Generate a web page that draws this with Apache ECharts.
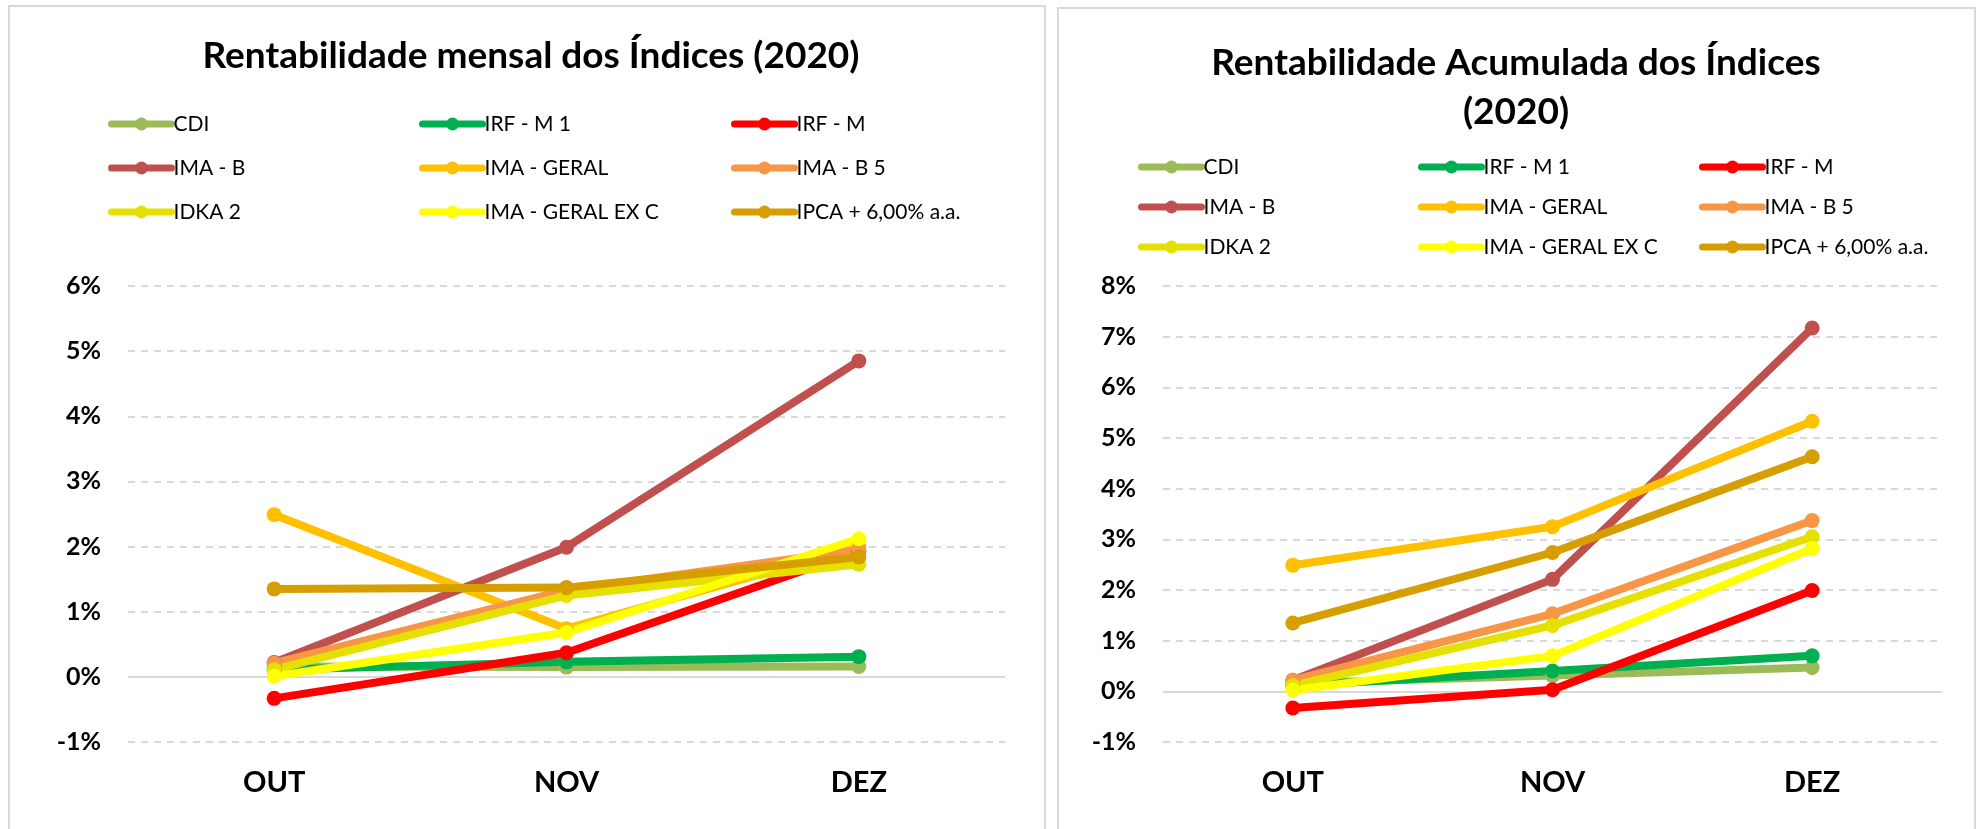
<!DOCTYPE html>
<html>
<head>
<meta charset="utf-8">
<script src="https://cdn.jsdelivr.net/npm/echarts@6/dist/echarts.min.js"></script>
<style>
  html, body { margin: 0; padding: 0; background: #fff; }
  #chart { width: 1981px; height: 829px; }
</style>
</head>
<body>
<div id="chart"></div>
<script>
const categories = ['OUT', 'NOV', 'DEZ']
const names = ['CDI', 'IRF - M 1', 'IRF - M', 'IMA - B', 'IMA - GERAL', 'IMA - B 5', 'IDKA 2', 'IMA - GERAL EX C', 'IPCA + 6,00% a.a.']
const colors = ['#9BBB59', '#00B050', '#FF0000', '#C0504D', '#FFC000', '#F79646', '#E6E000', '#FFFF00', '#D69E00']

// rentabilidade mensal (%)
const mCdi = [0.16, 0.15, 0.16]
const mIrfm1 = [0.11, 0.23, 0.31]
const mIrfm = [-0.33, 0.37, 1.93]
const mImab = [0.22, 1.99, 4.85]
const mImaGeral = [2.49, 0.74, 2.00]
const mImab5 = [0.21, 1.33, 1.95]
const mIdka2 = [0.11, 1.25, 1.73]
const mImaGeralExC = [0.01, 0.68, 2.12]
const mIpca = [1.35, 1.37, 1.84]

// rentabilidade acumulada (%)
const aCdi = [0.16, 0.31, 0.47]
const aIrfm1 = [0.11, 0.40, 0.70]
const aIrfm = [-0.33, 0.03, 1.99]
const aImab = [0.22, 2.21, 7.17]
const aImaGeral = [2.49, 3.25, 5.33]
const aImab5 = [0.22, 1.53, 3.37]
const aIdka2 = [0.11, 1.30, 3.05]
const aImaGeralExC = [0.02, 0.70, 2.82]
const aIpca = [1.35, 2.74, 4.63]

const mensal = [mCdi, mIrfm1, mIrfm, mImab, mImaGeral, mImab5, mIdka2, mImaGeralExC, mIpca]
const acumulada = [aCdi, aIrfm1, aIrfm, aImab, aImaGeral, aImab5, aIdka2, aImaGeralExC, aIpca]

const font = 'Lato'
const gridColor = '#d9d9d9'

function makeSeries(data, idx) {
  return data.map((values, i) => {
    const s = {
      name: names[i],
      type: 'line',
      xAxisIndex: idx,
      yAxisIndex: idx,
      data: values,
      symbol: 'circle',
      symbolSize: 15,
      lineStyle: { width: 8, color: colors[i], cap: 'round' },
      itemStyle: { color: colors[i] },
      animation: false
    }
    if (i === 0) {
      // linha do zero
      s.markLine = {
        silent: true,
        symbol: 'none',
        label: { show: false },
        lineStyle: { type: 'solid', color: gridColor, width: 2 },
        data: [{ yAxis: 0 }],
        z: 1
      }
    }
    return s
  })
}

function makeLegends(left, top, gap) {
  const out = []
  for (let c = 0; c < 3; c++) {
    out.push({
      orient: 'vertical',
      left: left[c],
      top: top,
      itemGap: gap,
      itemWidth: 60,
      itemHeight: 16,
      data: [names[c], names[c + 3], names[c + 6]],
      lineStyle: { width: 7, cap: 'round' },
      textStyle: { fontFamily: font, fontSize: 21, color: '#000', lineHeight: 24, padding: [0, 0, 0, -3] }
    })
  }
  return out
}

function yAxis(idx, max) {
  return {
    type: 'value',
    gridIndex: idx,
    min: -1,
    max: max,
    interval: 1,
    axisLine: { show: false },
    axisTick: { show: false },
    axisLabel: { formatter: '{value}%', fontFamily: font, fontWeight: 'bold', fontSize: 25, color: '#000', margin: 27 },
    splitLine: { lineStyle: { color: gridColor, width: 2, type: [7, 6] } }
  }
}

function xAxis(idx) {
  return {
    type: 'category',
    gridIndex: idx,
    data: categories,
    boundaryGap: true,
    axisLine: { show: false, onZero: false },
    axisTick: { show: false },
    axisLabel: { fontFamily: font, fontWeight: 'bold', fontSize: 29, color: '#000', margin: 26 },
    splitLine: { show: false }
  }
}

const chart = echarts.init(document.getElementById('chart'))

chart.setOption({
  backgroundColor: '#fff',
  title: [{
    text: 'Rentabilidade mensal dos Índices (2020)',
    left: 526,
    top: 33,
    textAlign: 'center',
    textStyle: { fontFamily: font, fontWeight: 'bold', fontSize: 37, color: '#000' }
  }, {
    text: 'Rentabilidade Acumulada dos Índices\n(2020)',
    left: 1511,
    top: 34,
    textAlign: 'center',
    textStyle: { fontFamily: font, fontWeight: 'bold', fontSize: 37, color: '#000', lineHeight: 49 }
  }],
  legend: makeLegends([103, 414, 726], 107, 20).concat(makeLegends([1133, 1413, 1694], 150, 16)),
  grid: [
    { left: 128, top: 286, width: 877, height: 456 },
    { left: 1163, top: 286, width: 779, height: 456 }
  ],
  xAxis: [xAxis(0), xAxis(1)],
  yAxis: [yAxis(0, 6), yAxis(1, 8)],
  graphic: [
    { type: 'rect', shape: { x: 9, y: 6, width: 1036, height: 900 }, style: { fill: 'none', stroke: gridColor, lineWidth: 2 }, silent: true },
    { type: 'rect', shape: { x: 1058, y: 8, width: 917, height: 900 }, style: { fill: 'none', stroke: gridColor, lineWidth: 2 }, silent: true }
  ],
  series: makeSeries(mensal, 0).concat(makeSeries(acumulada, 1))
})
</script>
</body>
</html>
